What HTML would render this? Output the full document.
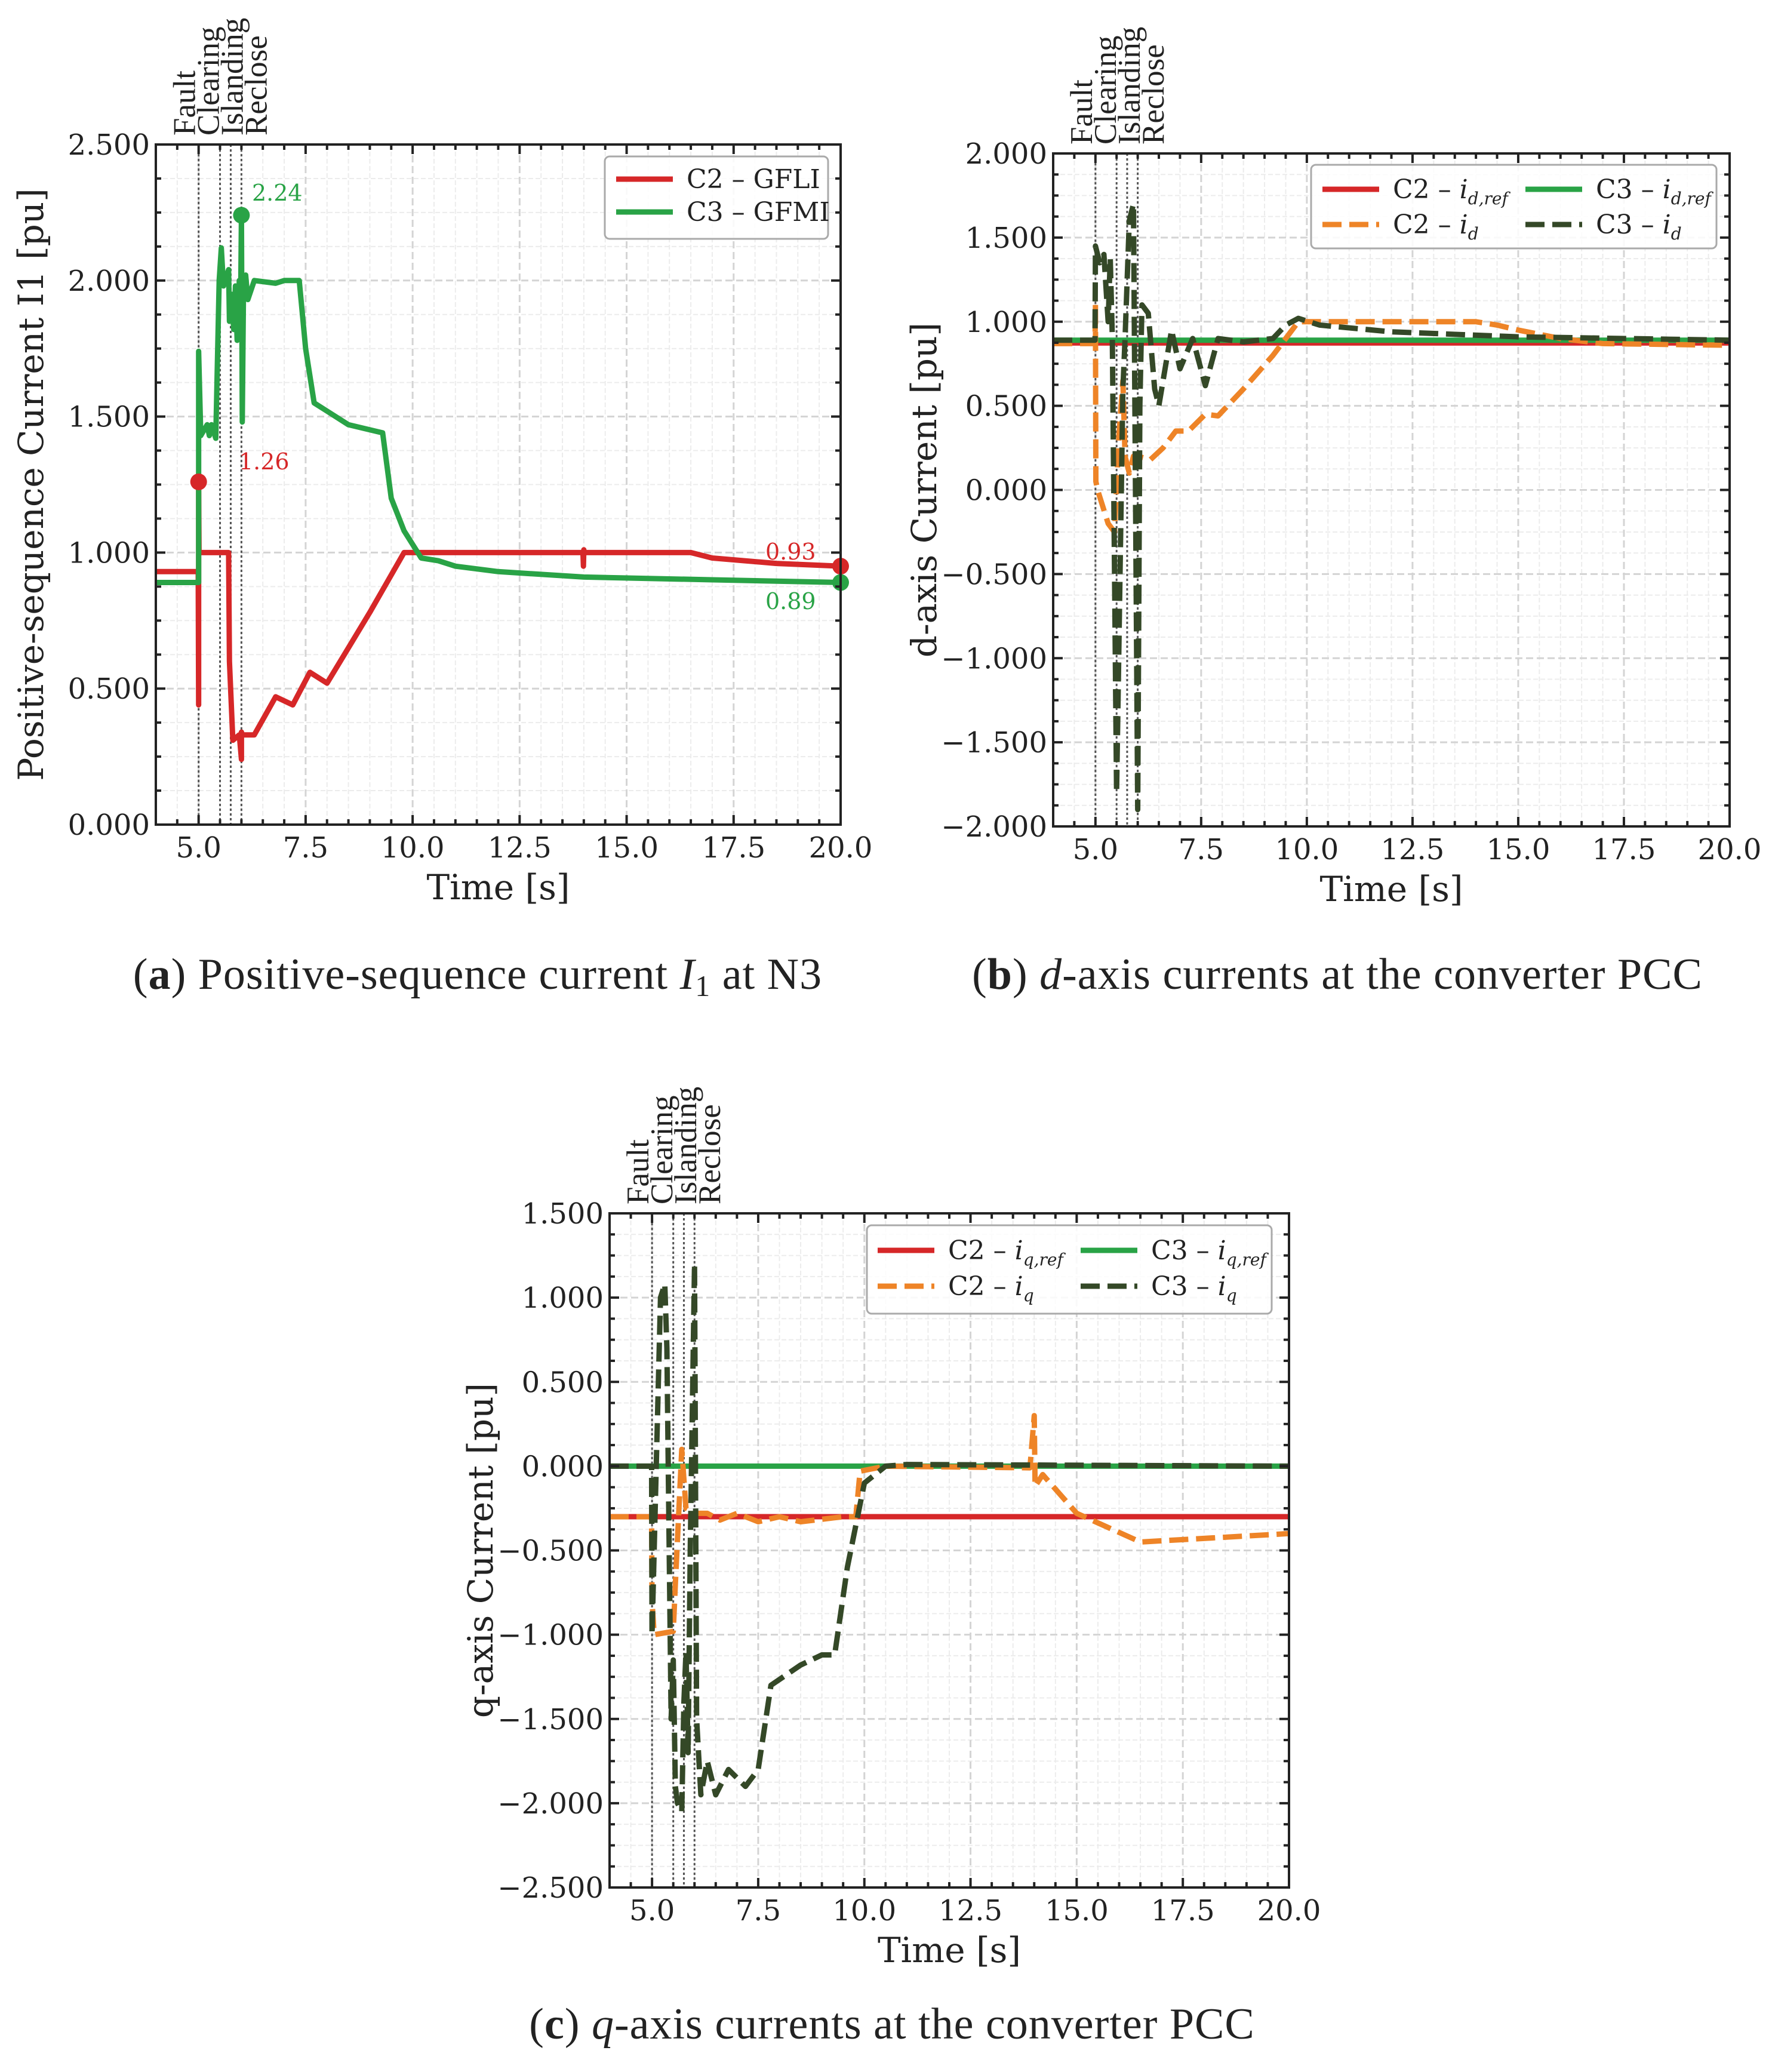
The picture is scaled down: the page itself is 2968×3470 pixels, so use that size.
<!DOCTYPE html>
<html><head><meta charset="utf-8">
<style>
html,body{margin:0;padding:0;background:#fff;}
svg{display:block;}
.tick{font-family:"DejaVu Serif","Liberation Serif",serif;font-size:48px;fill:#222;}
.axl{font-family:"DejaVu Serif","Liberation Serif",serif;font-size:58px;fill:#222;}
.ev{font-family:"Liberation Serif",serif;font-size:53px;fill:#222;}
.leg{font-family:"DejaVu Serif","Liberation Serif",serif;font-size:44px;fill:#222;}
.cap{font-family:"Liberation Serif",serif;font-size:74px;fill:#222;letter-spacing:1px;}
</style></head>
<body>
<svg id="fig" width="2968" height="3470" viewBox="0 0 2968 3470" xmlns="http://www.w3.org/2000/svg">
<rect width="2968" height="3470" fill="#fff"/>
<text class="cap" x="800" y="1656" text-anchor="middle">(<tspan font-weight="bold">a</tspan>) Positive-sequence current <tspan font-style="italic">I</tspan><tspan font-size="50" dy="12">1</tspan><tspan dy="-12"> at N3</tspan></text>
<text class="cap" x="2240" y="1656" text-anchor="middle">(<tspan font-weight="bold">b</tspan>) <tspan font-style="italic">d</tspan>-axis currents at the converter PCC</text>
<text class="cap" x="1494" y="3414" text-anchor="middle">(<tspan font-weight="bold">c</tspan>) <tspan font-style="italic">q</tspan>-axis currents at the converter PCC</text>
</svg>
<script>
// ---- Panel A data ----
const aC2T = [4,4.99,5.0,5.0,5.01,5.7,5.72,5.8,5.95,6.0,6.0,6.02,6.3,6.8,7.2,7.6,8.0,8.5,9.0,9.8,13.98,13.99,14.0,14.01,16.5,17.0,18.5,20];
const aC2V = [0.93,0.93,0.44,1.26,1.0,1.0,0.6,0.31,0.33,0.24,0.34,0.33,0.33,0.47,0.44,0.56,0.52,0.65,0.78,1.0,1.0,0.95,1.01,1.0,1.0,0.98,0.96,0.95];
const aC3T = [4,4.99,5.0,5.0,5.05,5.2,5.25,5.3,5.4,5.48,5.53,5.58,5.62,5.7,5.72,5.76,5.82,5.86,5.9,5.95,5.98,6.0,6.02,6.05,6.1,6.15,6.3,6.8,7.0,7.35,7.5,7.7,8.0,8.5,9.3,9.5,9.8,10.2,10.6,11,12,14,17,20];
const aC3V = [0.89,0.89,0.89,1.74,1.43,1.47,1.43,1.47,1.42,2.0,2.12,1.98,2.0,2.04,1.85,1.95,1.82,1.98,1.78,2.0,1.9,2.24,1.48,2.0,2.02,1.93,2.0,1.99,2.0,2.0,1.75,1.55,1.52,1.47,1.44,1.2,1.08,0.98,0.97,0.95,0.93,0.91,0.90,0.89];
const aYTicks = [0,0.5,1.0,1.5,2.0,2.5];
const aYLabels = ["0.000","0.500","1.000","1.500","2.000","2.500"];
// ---- Panel B data ----
const bRefC2 = [0.87];
const bRefC3 = [0.89];
const bC2T = [4,4.99,5.0,5.01,5.05,5.3,5.45,5.55,5.65,5.7,5.8,5.9,6.0,6.3,6.6,6.9,7.2,7.6,7.9,8.5,9.2,9.8,14,14.5,15,16,17,20];
const bC2V = [0.87,0.87,1.1,0.05,0.0,-0.2,-0.25,0.3,0.65,0.2,0.1,0.2,0.2,0.18,0.25,0.35,0.35,0.45,0.44,0.6,0.8,1.0,1.0,0.98,0.95,0.9,0.87,0.86];
const bC3T = [4,4.99,5.0,5.1,5.2,5.3,5.35,5.4,5.5,5.55,5.65,5.7,5.8,5.9,6.0,6.05,6.1,6.25,6.4,6.5,6.8,7.0,7.3,7.6,7.9,8.5,9.2,9.5,9.8,10.3,12,15,20];
const bC3V = [0.89,0.89,1.45,1.35,1.4,1.0,1.38,0.9,-1.8,-1.0,0.6,0.9,1.6,1.7,-1.9,0.5,1.1,1.05,0.6,0.5,0.95,0.72,0.9,0.62,0.9,0.88,0.9,0.98,1.02,0.98,0.94,0.91,0.89];
const bYTicks = [-2,-1.5,-1,-0.5,0,0.5,1,1.5,2];
const bYLabels = ["−2.000","−1.500","−1.000","−0.500","0.000","0.500","1.000","1.500","2.000"];
// ---- Panel C data ----
const cRefC2 = [-0.3];
const cRefC3 = [0.0];
const cC2T = [4,4.99,5.0,5.05,5.5,5.55,5.7,5.8,6.0,6.3,6.6,7.0,7.5,8.0,8.5,9.5,9.8,9.9,10.5,13.9,14.0,14.02,14.2,15,16.5,20];
const cC2V = [-0.3,-0.3,-0.8,-1.0,-0.98,-0.7,0.1,-0.25,-0.28,-0.28,-0.32,-0.28,-0.33,-0.3,-0.33,-0.3,-0.3,-0.03,0,-0.01,0.3,-0.12,-0.05,-0.28,-0.45,-0.4];
const cC3T = [4,4.99,5.0,5.05,5.1,5.2,5.3,5.35,5.45,5.5,5.55,5.6,5.7,5.75,5.8,5.85,5.9,6.0,6.05,6.15,6.3,6.5,6.8,7.2,7.5,7.8,8.5,9.0,9.3,9.6,10.0,10.5,11,20];
const cC3V = [0,0,-1.0,-0.5,0,1.0,1.08,0.7,-1.5,-1.15,-1.9,-2.0,-2.05,-1.4,-1.1,-1.7,-0.5,1.2,-1.5,-1.95,-1.75,-1.95,-1.8,-1.9,-1.8,-1.3,-1.18,-1.12,-1.12,-0.6,-0.1,0.0,0.01,0];
const cYTicks = [-2.5,-2,-1.5,-1,-0.5,0,0.5,1,1.5];
const cYLabels = ["−2.500","−2.000","−1.500","−1.000","−0.500","0.000","0.500","1.000","1.500"];
// ---- shared ----
const xTicks = [5,7.5,10,12.5,15,17.5,20];
const xLabels = ["5.0","7.5","10.0","12.5","15.0","17.5","20.0"];
const events = [5.0,5.5,5.75,6.0];
const eventNames = ["Fault","Clearing","Islanding","Reclose"];

const NS="http://www.w3.org/2000/svg";
const fig=document.getElementById('fig');
function mk(tag,attrs,parent){const e=document.createElementNS(NS,tag);for(const k in attrs)e.setAttribute(k,attrs[k]);(parent||fig).appendChild(e);return e;}

const RED="#d62728",GRN="#29a346",ORG="#ee8427",DKG="#344827";

function panel(P){
  const g=mk('g',{});
  
  
  const X=t=>P.L+(t-4)/16*(P.R-P.L);
  const Y=v=>P.B-(v-P.ymin)/(P.ymax-P.ymin)*(P.B-P.T);
  for(let t=4.5;t<20;t+=0.5){ if(Math.abs((t/2.5)-Math.round(t/2.5))<1e-6)continue;
    const l=mk('line',{x1:X(t),x2:X(t),y1:P.T,y2:P.B,stroke:'#ececec','stroke-width':2,'stroke-dasharray':'8,4'},g);
    }
  for(let v=P.ymin;v<P.ymax;v+=0.125){ if(Math.abs(v*2-Math.round(v*2))<1e-6)continue;
    const l=mk('line',{x1:P.L,x2:P.R,y1:Y(v),y2:Y(v),stroke:'#ececec','stroke-width':2,'stroke-dasharray':'8,4'},g);
    }
  xTicks.forEach(t=>{const l=mk('line',{x1:X(t),x2:X(t),y1:P.T,y2:P.B,stroke:'#d4d4d4','stroke-width':3,'stroke-dasharray':'12,6'},g);
    });
  P.yt.forEach(v=>{const l=mk('line',{x1:P.L,x2:P.R,y1:Y(v),y2:Y(v),stroke:'#d4d4d4','stroke-width':3,'stroke-dasharray':'12,6'},g);
    });
  const cid='clip'+P.name;
  const cp=mk('clipPath',{id:cid},g);mk('rect',{x:P.L,y:P.T,width:P.R-P.L,height:P.B-P.T},cp);
  const pg=mk('g',{'clip-path':'url(#'+cid+')'},g);
  events.forEach(t=>{const l=mk('line',{x1:X(t),x2:X(t),y1:P.T,y2:P.B,stroke:'#555','stroke-width':3,'stroke-dasharray':'4,4'},pg);
    });
  P.series.forEach(s=>{
    let d;
    if(s.ref!==undefined){d='M'+X(4)+','+Y(s.ref[0])+'L'+X(20)+','+Y(s.ref[0]);}
    else d=s.t.map((t,i)=>(i?'L':'M')+X(t).toFixed(1)+','+Y(s.v[i]).toFixed(1)).join('');
    const p=mk('path',{d:d,fill:'none',stroke:s.c,'stroke-width':s.w||9,'stroke-linejoin':'round'},pg);
    if(s.dash)p.setAttribute('stroke-dasharray','32,13');
    
    
  });
  (P.markers||[]).forEach(m=>{const c=mk('circle',{cx:X(m[0]),cy:Y(m[1]),r:14,fill:m[2]},g);
    });
  const sp=mk('rect',{x:P.L,y:P.T,width:P.R-P.L,height:P.B-P.T,fill:'none',stroke:'#222','stroke-width':4},g);
  
  for(let t=4.5;t<20.01;t+=0.5){const maj=xTicks.some(x=>Math.abs(x-t)<1e-6);const len=maj?16:9;
    mk('line',{x1:X(t),x2:X(t),y1:P.B,y2:P.B-len,stroke:'#222','stroke-width':4},g);
    mk('line',{x1:X(t),x2:X(t),y1:P.T,y2:P.T+len,stroke:'#222','stroke-width':4},g);}
  for(let v=P.ymin;v<=P.ymax+1e-6;v+=0.125){const maj=Math.abs(v*2-Math.round(v*2))<1e-6;const len=maj?16:9;
    mk('line',{x1:P.L,x2:P.L+len,y1:Y(v),y2:Y(v),stroke:'#222','stroke-width':4},g);
    mk('line',{x1:P.R,x2:P.R-len,y1:Y(v),y2:Y(v),stroke:'#222','stroke-width':4},g);}
  xTicks.forEach((t,i)=>{const tx=mk('text',{class:'tick',x:X(t),y:P.B+55,'text-anchor':'middle'},g);tx.textContent=xLabels[i];
    });
  P.yt.forEach((v,i)=>{const tx=mk('text',{class:'tick',x:P.L-10,y:Y(v)+17,'text-anchor':'end'},g);tx.textContent=P.yl[i];
    });
  const xl=mk('text',{class:'axl',x:(P.L+P.R)/2,y:P.B+125,'text-anchor':'middle'},g);xl.textContent='Time [s]';
  
  const yl=mk('text',{class:'axl',x:0,y:0,'text-anchor':'middle',transform:'translate('+P.ylx+','+((P.T+P.B)/2)+') rotate(-90)'},g);yl.textContent=P.ylab;
  
  eventNames.forEach((n,i)=>{const bx=X(5)-6+40*i;const by=P.T-15;
    const tx=mk('text',{class:'ev',x:0,y:0,transform:'translate('+bx+','+by+') rotate(-90)'},g);tx.textContent=n;
    });
  const Lg=P.leg;
  const lb=mk('rect',{x:Lg.x,y:Lg.y,width:Lg.w,height:Lg.h,rx:8,fill:'#fff','fill-opacity':0.85,stroke:'#aaa','stroke-width':3},g);
  
  Lg.items.forEach(it=>{
    const ln=mk('line',{x1:it.x,x2:it.x+95,y1:it.y,y2:it.y,stroke:it.c,'stroke-width':9},g);
    if(it.dash)ln.setAttribute('stroke-dasharray','32,13');
    const tx=mk('text',{class:'leg',x:it.x+118,y:it.y+15},g);tx.innerHTML=it.html;
    
  });
  (P.notes||[]).forEach(nt=>{const tx=mk('text',{class:'tick',x:nt[0],y:nt[1],style:'fill:'+nt[3]+';font-size:38px'},g);tx.textContent=nt[2];
    });
}

function sub(a,b){return 'C'+a+' – <tspan font-style="italic">i</tspan><tspan font-size="28" dy="10" font-style="italic">'+b+'</tspan>';}

panel({name:'panel-a',L:261,R:1408,T:242,B:1381,ymin:0,ymax:2.5,yt:aYTicks,yl:aYLabels,ylx:72,ylab:'Positive-sequence Current I1 [pu]',
  series:[{t:aC2T,v:aC2V,c:RED,n:'line-c2-gfli'},{t:aC3T,v:aC3V,c:GRN,n:'line-c3-gfmi'}],
  markers:[[5.0,1.26,RED],[6.0,2.24,GRN],[20,0.95,RED],[20,0.89,GRN]],
  notes:[[422,336,'2.24',GRN],[400,786,'1.26',RED],[1282,937,'0.93',RED],[1282,1020,'0.89',GRN]],
  leg:{x:1013,y:262,w:374,h:138,items:[{x:1032,y:300,c:RED,html:'C2 – GFLI'},{x:1032,y:355,c:GRN,html:'C3 – GFMI'}]}});

panel({name:'panel-b',L:1764,R:2897,T:257,B:1384,ymin:-2,ymax:2,yt:bYTicks,yl:bYLabels,ylx:1568,ylab:'d-axis Current [pu]',
  series:[{ref:bRefC2,c:RED,n:'line-c2-id-ref',w:7},{ref:bRefC3,c:GRN,n:'line-c3-id-ref',w:9},
          {t:bC2T,v:bC2V,c:ORG,dash:1,n:'line-c2-id'},{t:bC3T,v:bC3V,c:DKG,dash:1,n:'line-c3-id'}],
  leg:{x:2196,y:276,w:679,h:140,items:[
    {x:2215,y:317,c:RED,html:sub(2,'d,ref')},
    {x:2555,y:317,c:GRN,html:sub(3,'d,ref')},
    {x:2215,y:376,c:ORG,dash:1,html:sub(2,'d')},
    {x:2555,y:376,c:DKG,dash:1,html:sub(3,'d')}]}});

panel({name:'panel-c',L:1021,R:2159,T:2032,B:3161,ymin:-2.5,ymax:1.5,yt:cYTicks,yl:cYLabels,ylx:825,ylab:'q-axis Current [pu]',
  series:[{ref:cRefC2,c:RED,n:'line-c2-iq-ref'},{ref:cRefC3,c:GRN,n:'line-c3-iq-ref'},
          {t:cC2T,v:cC2V,c:ORG,dash:1,n:'line-c2-iq'},{t:cC3T,v:cC3V,c:DKG,dash:1,n:'line-c3-iq'}],
  leg:{x:1452,y:2052,w:678,h:148,items:[
    {x:1470,y:2094,c:RED,html:sub(2,'q,ref')},
    {x:1810,y:2094,c:GRN,html:sub(3,'q,ref')},
    {x:1470,y:2154,c:ORG,dash:1,html:sub(2,'q')},
    {x:1810,y:2154,c:DKG,dash:1,html:sub(3,'q')}]}});
</script>
</body></html>
